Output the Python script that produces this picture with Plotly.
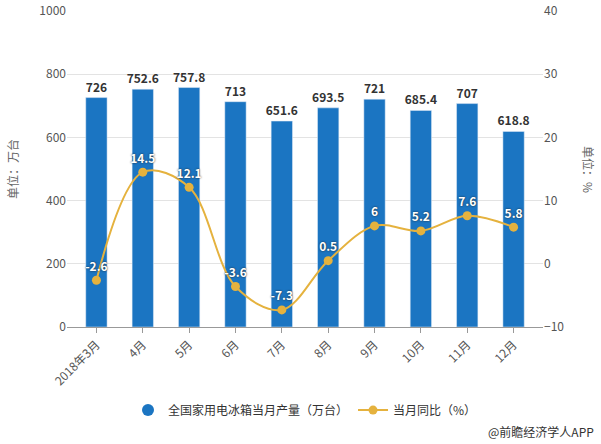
import plotly.graph_objects as go

months = ["2018年3月", "4月", "5月", "6月", "7月", "8月", "9月", "10月", "11月", "12月"]
production = [726, 752.6, 757.8, 713, 651.6, 693.5, 721, 685.4, 707, 618.8]
yoy = [-2.6, 14.5, 12.1, -3.6, -7.3, 0.5, 6, 5.2, 7.6, 5.8]

bar_name = "全国家用电冰箱当月产量（万台）"
line_name = "当月同比（%）"
bar_color = "#1B75C2"
line_color = "#E5B23E"
font_family = "Microsoft YaHei, Noto Sans CJK SC, sans-serif"

fig = go.Figure()
fig.add_trace(go.Bar(
    x=months, y=production, name=bar_name, marker_color=bar_color,
    text=[f"{v:g}" for v in production], textposition="outside",
    constraintext="none", textangle=0,
    textfont=dict(size=12, color="#333333", weight="bold"),
    cliponaxis=False, showlegend=False,
))
fig.add_trace(go.Scatter(
    x=[None], y=[None], mode="markers", name=bar_name,
    marker=dict(color=bar_color, size=12, symbol="circle"),
))
fig.add_trace(go.Scatter(
    x=months, y=yoy, name=line_name, yaxis="y2",
    mode="lines+markers+text",
    line=dict(color=line_color, width=2, shape="spline", smoothing=1.0),
    marker=dict(color=line_color, size=9),
    text=[f"{v:g}" for v in yoy], textposition="top center",
    textfont=dict(size=12, color="white", weight="bold", shadow="0px 0px 2px #222"),
    cliponaxis=False,
))

fig.update_layout(
    width=601, height=444,
    margin=dict(l=67, r=58, t=11, b=117),
    plot_bgcolor="white", paper_bgcolor="white",
    font=dict(family=font_family, size=12, color="#555555"),
    bargap=0.54,
    showlegend=True,
    legend=dict(orientation="h", x=0.5, xanchor="center", y=-0.263, yanchor="middle",
                font=dict(size=12, color="#333333"), itemwidth=30),
    xaxis=dict(
        tickangle=-45, ticks="outside", ticklen=5, tickcolor="#999999",
        showline=True, linecolor="#999999", showgrid=False, automargin=False,
        tickfont=dict(size=12, color="#555555"),
    ),
    yaxis=dict(
        range=[0, 1000], dtick=200, showgrid=True, gridcolor="#e3e3e3",
        zeroline=False, automargin=False, tickfont=dict(size=12, color="#555555"),
        title=dict(text="单位：万台", font=dict(size=12, color="#666666"), standoff=18),
    ),
    yaxis2=dict(
        range=[-10, 40], dtick=10, overlaying="y", side="right",
        showgrid=False, zeroline=False, automargin=False,
        tickfont=dict(size=12, color="#555555"),
    ),
    annotations=[
        dict(text="单位：%", textangle=90, x=1.0, xref="paper", xanchor="center",
             xshift=46, y=0.5, yref="paper", showarrow=False,
             font=dict(size=12, color="#666666")),
        dict(text="@前瞻经济学人APP", x=1.0, xref="paper", xanchor="right", xshift=53,
             y=-0.332, yref="paper", yanchor="middle", showarrow=False,
             font=dict(size=12, color="#333333")),
    ],
)

fig.write_html(
    "out.html",
    config={"displayModeBar": False},
    post_script="document.body.style.margin='0';document.body.style.overflow='hidden';",
)
